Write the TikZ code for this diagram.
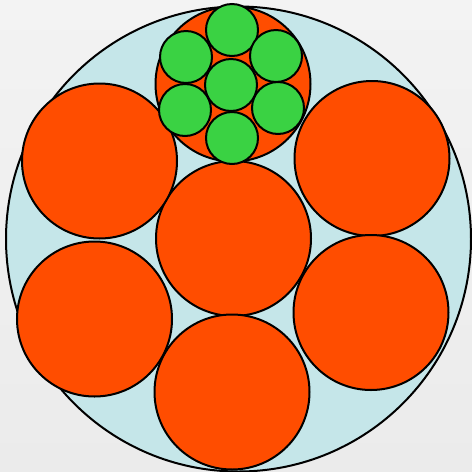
\documentclass[tikz,border=0pt]{standalone}
\usepackage{tikz}
\usepackage{xcolor}
\definecolor{bgtop}{HTML}{F3F3F3}
\definecolor{bgbottom}{HTML}{EBEBEB}
\definecolor{cableblue}{HTML}{C5E6E9}
\definecolor{bundleorange}{HTML}{FF4D00}
\definecolor{wiregreen}{HTML}{3AD243}

\begin{document}
\begin{tikzpicture}[
  x=0.5pt,y=-0.5pt,
  jacket/.style={draw=black,line width=1pt,fill=cableblue},
  bundle/.style={draw=black,line width=1pt,fill=bundleorange},
  wire/.style={draw=black,line width=1pt,fill=wiregreen}
]
\useasboundingbox[shade,top color=bgtop,bottom color=bgbottom] (0,0) rectangle (472,472);
% outer jacket
\path[jacket] (238.5,239) circle (232.5);
% seven bundles
\foreach \x/\y in {233/84,233.5/238.5,232/392,99.5/161,94.5/319,372/158.5,371/312.5}
  {\path[bundle] (\x,\y) circle (77.5);}
% wires inside the top bundle
\foreach \x/\y in {231/85,232/30,232/138,186/57,185/110,276/56,278/108}
  {\path[wire] (\x,\y) circle (26);}
\end{tikzpicture}
\end{document}
